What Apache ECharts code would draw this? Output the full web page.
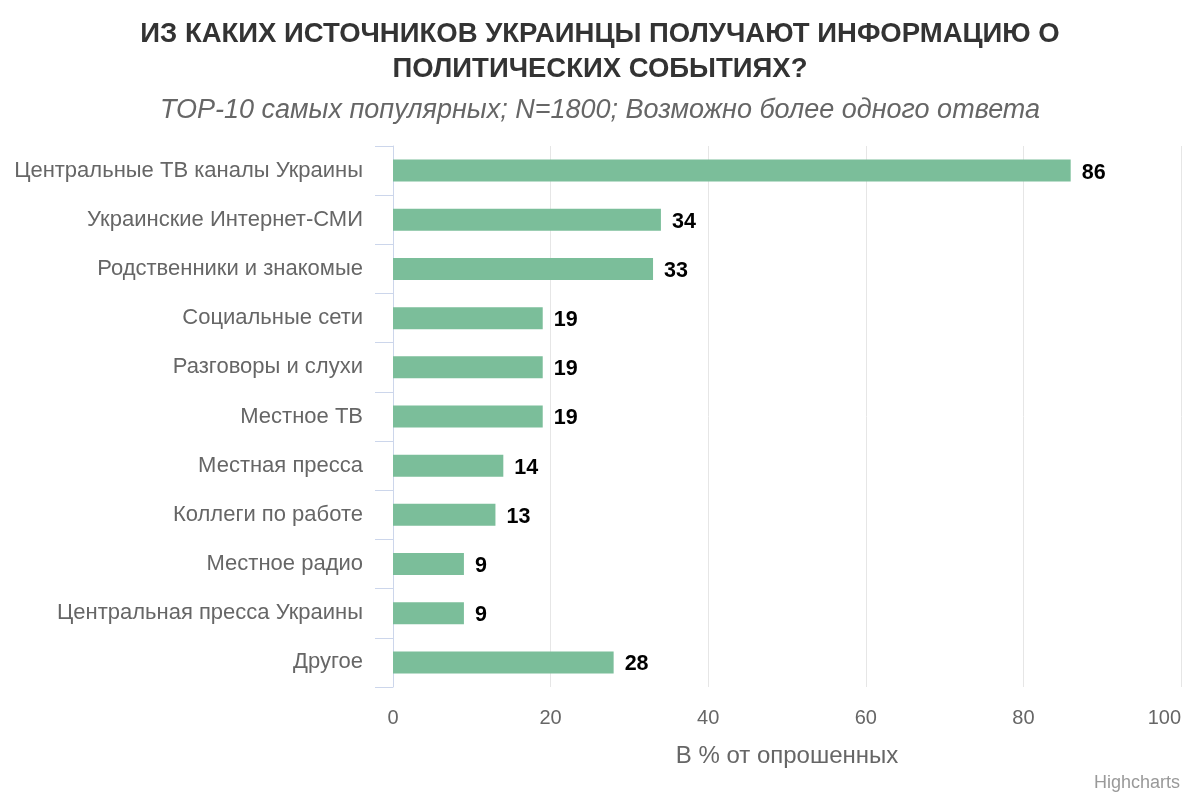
<!DOCTYPE html>
<html><head><meta charset="utf-8">
<script src="https://cdn.jsdelivr.net/npm/echarts@6/dist/echarts.min.js"></script>
<style>html,body{margin:0;padding:0;background:#fff}#c{width:1200px;height:800px}</style>
</head><body><div id="c"></div>
<script>
const categories = ["Центральные ТВ каналы Украины","Украинские Интернет-СМИ","Родственники и знакомые","Социальные сети","Разговоры и слухи","Местное ТВ","Местная пресса","Коллеги по работе","Местное радио","Центральная пресса Украины","Другое"];
const values = [86,34,33,19,19,19,14,13,9,9,28];
const valueTicks = [0,20,40,60,80,100];
const titleText = "ИЗ КАКИХ ИСТОЧНИКОВ УКРАИНЦЫ ПОЛУЧАЮТ ИНФОРМАЦИЮ О\nПОЛИТИЧЕСКИХ СОБЫТИЯХ?";
const subtitleText = "TOP-10 самых популярных; N=1800; Возможно более одного ответа";
const axisTitle = "В % от опрошенных";
const F = "'Liberation Sans', Arial, sans-serif";
const chart = echarts.init(document.getElementById('c'));
chart.setOption({
  animation:false,
  textStyle:{fontFamily:F},
  title:[
    {text:titleText,left:'center',top:12,textStyle:{fontFamily:F,fontSize:27.5,fontWeight:'bold',color:'#333',lineHeight:35}},
    {text:subtitleText,left:'center',top:92,textStyle:{fontFamily:F,fontSize:27,fontStyle:'italic',fontWeight:'normal',color:'#666'}}
  ],
  grid:{left:393,right:19,top:146,bottom:113,containLabel:false},
  xAxis:{type:'value',min:0,max:100,interval:20,
    name:axisTitle,nameLocation:'middle',nameGap:57,
    nameTextStyle:{fontFamily:F,fontSize:24,color:'#666'},
    axisLine:{show:false},axisTick:{show:false},
    axisLabel:{fontFamily:F,fontSize:20,color:'#666',margin:21,alignMaxLabel:'right',
      formatter:v=>valueTicks.includes(v)?String(v):''},
    splitLine:{lineStyle:{color:'#e6e6e6',width:1}}},
  yAxis:{type:'category',data:categories,inverse:true,
    axisLine:{show:true,lineStyle:{color:'#ccd6eb',width:1}},
    axisTick:{show:true,length:18,lineStyle:{color:'#ccd6eb',width:1}},
    axisLabel:{fontFamily:F,fontSize:22,color:'#666',margin:30,padding:[4,0,0,0]},
    splitLine:{show:false}},
  series:[{type:'bar',data:values,barWidth:22,
    itemStyle:{color:'#7bbe9a'},
    label:{show:true,position:'right',distance:11,offset:[0,2],fontFamily:F,fontSize:21.5,fontWeight:'bold',color:'#000'}}],
  graphic:[{type:'text',right:20,bottom:8,style:{text:'Highcharts',font:"18px "+F,fill:'#999'}}]
});
</script></body></html>
